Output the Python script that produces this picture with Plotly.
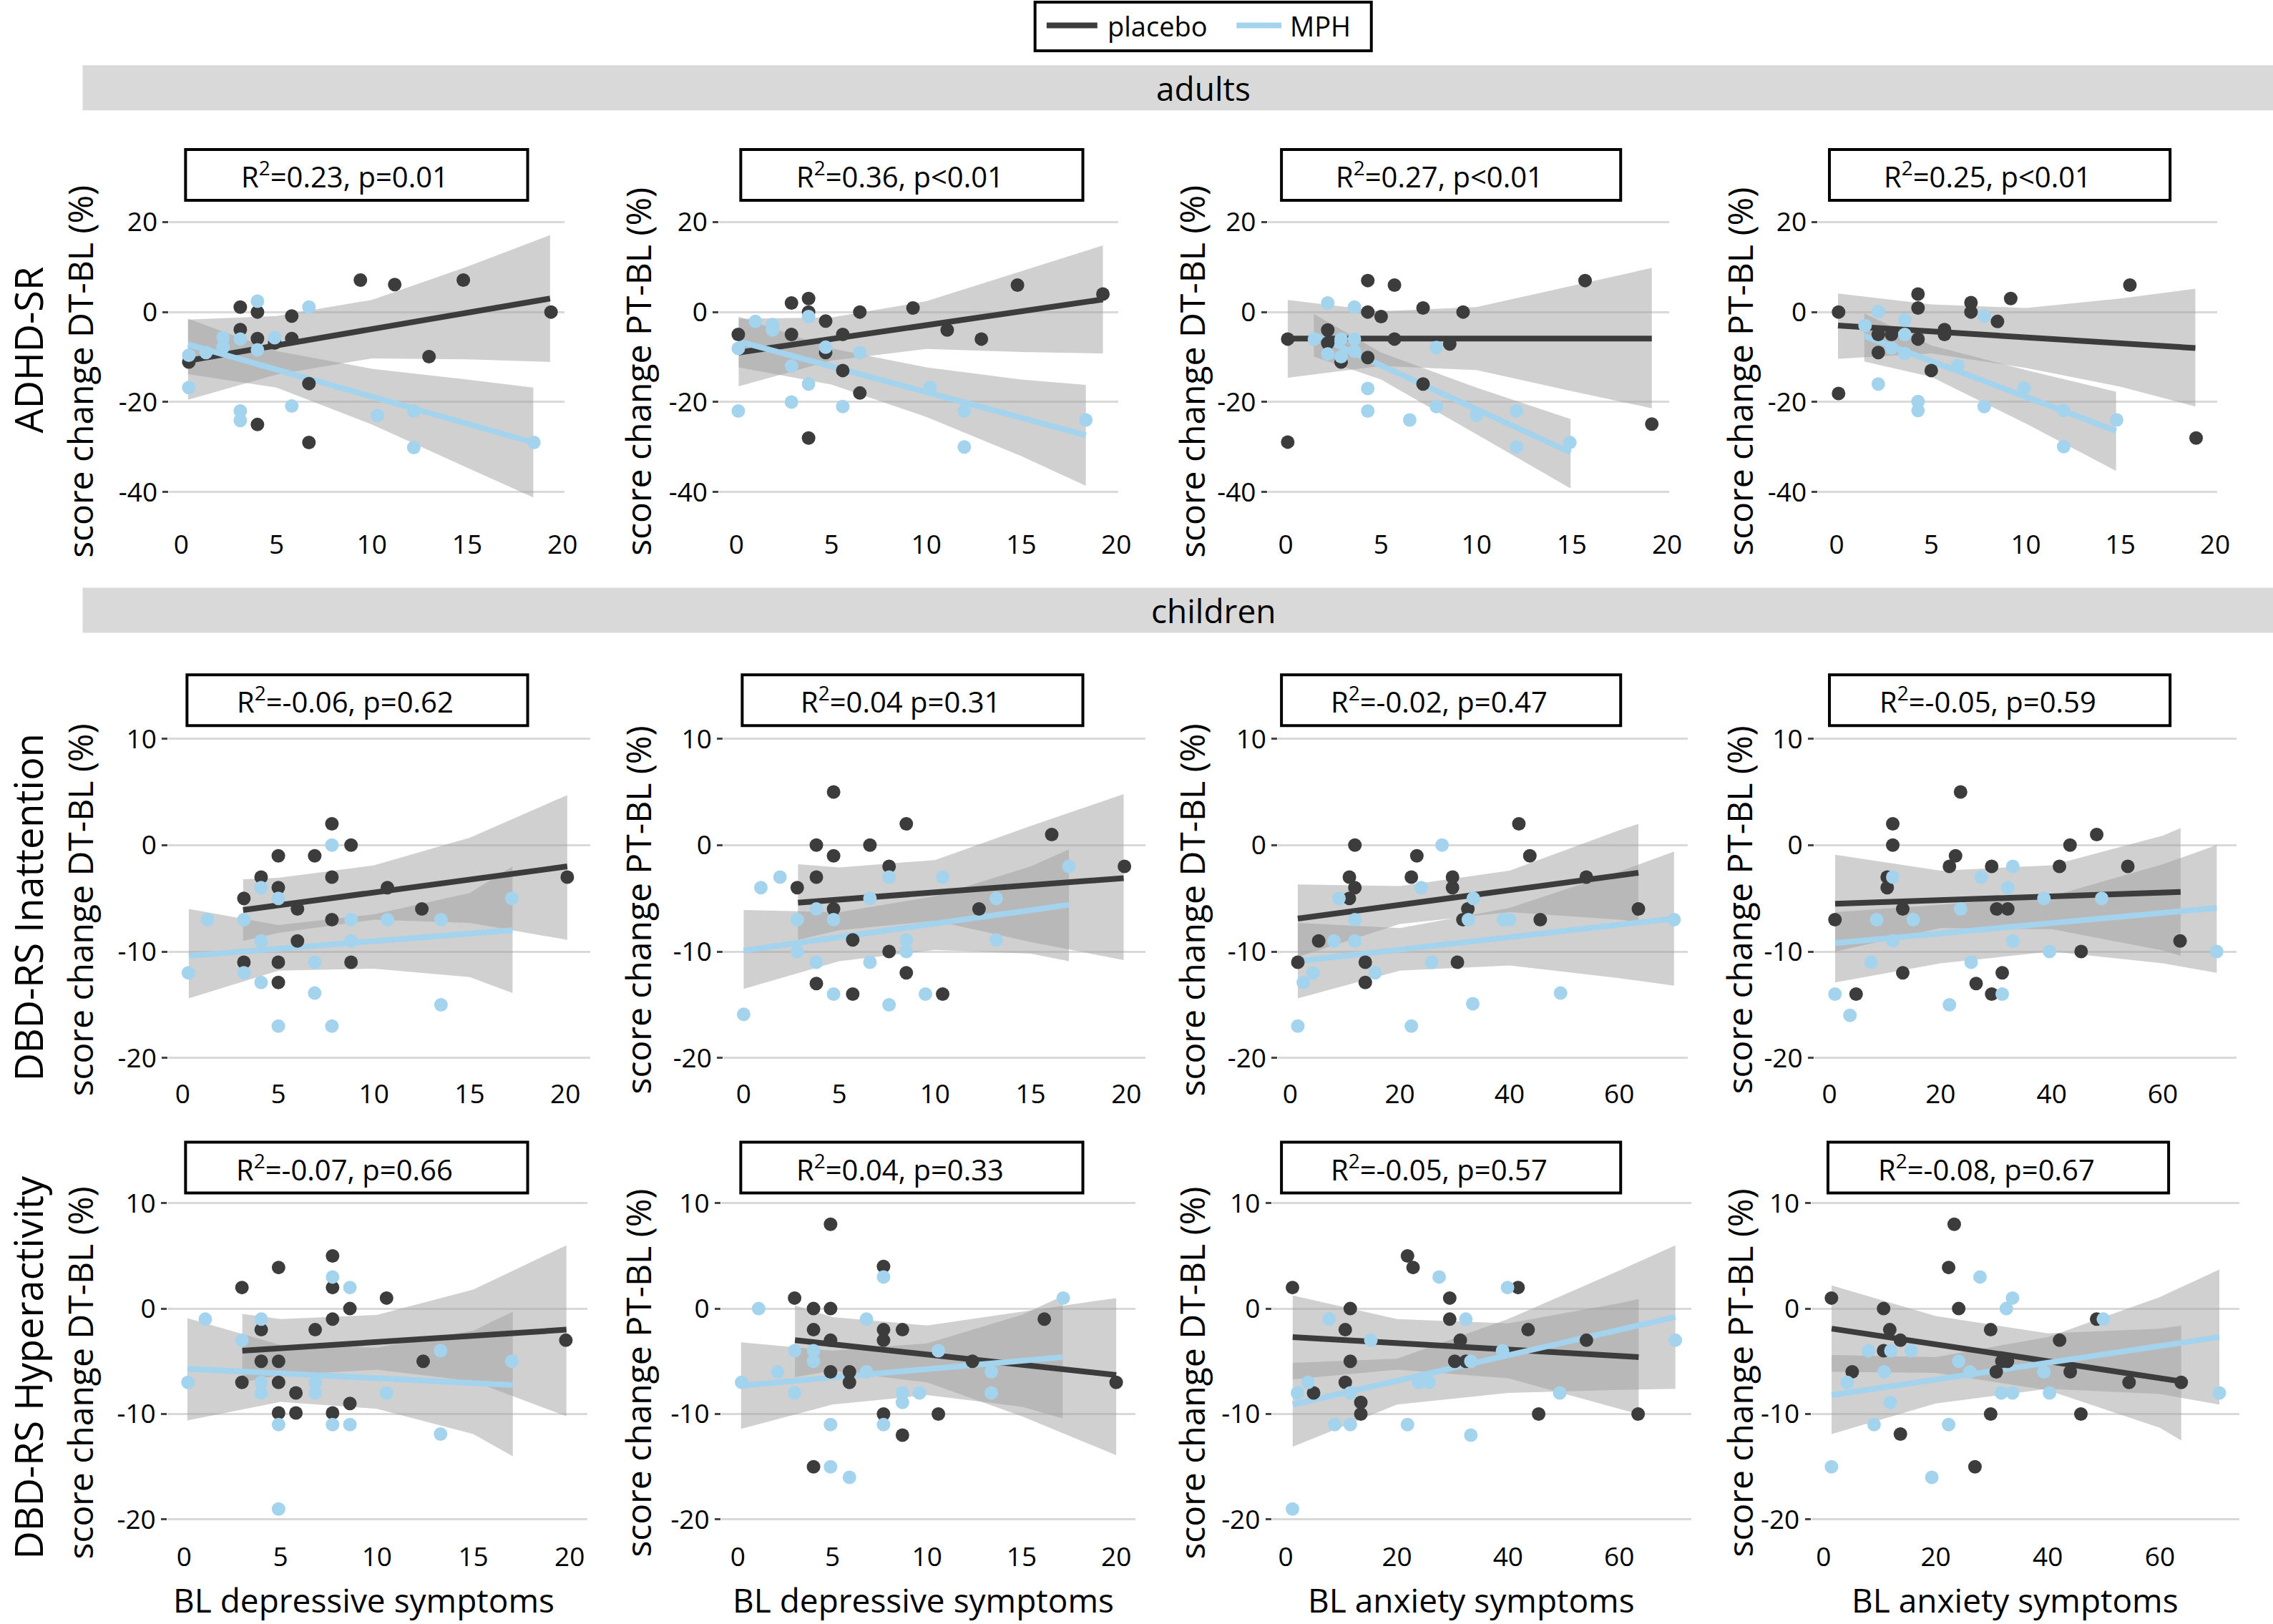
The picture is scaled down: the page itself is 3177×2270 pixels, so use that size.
import plotly.graph_objects as go

# ------------------------------------------------------------------
# DATA
# ------------------------------------------------------------------
# ---- ADHD-SR, DT-BL vs BL depressive (row 1, col 1)
adhd_dt_dep_pla_x = [0.4, 3.1, 4.0, 3.1, 4.0, 4.9, 5.8, 5.8, 6.7, 6.7, 4.0, 9.4, 11.2, 13.0, 14.8, 19.4]
adhd_dt_dep_pla_y = [-11.1, 1.1, 0.0, -3.9, -5.9, -6.9, -0.9, -5.9, -15.9, -29.0, -25.0, 7.1, 6.1, -9.9, 7.1, 0.0]
adhd_dt_dep_mph_x = [0.4, 0.4, 1.3, 2.2, 2.2, 3.1, 3.1, 3.1, 4.0, 4.0, 4.9, 5.8, 6.7, 10.3, 12.2, 12.2, 18.5]
adhd_dt_dep_mph_y = [-9.6, -16.8, -9.0, -5.7, -7.8, -6.0, -22.0, -24.1, 2.4, -8.4, -5.7, -20.9, 1.1, -23.0, -22.0, -30.1, -29.0]
adhd_dt_dep_pla_bx = [0.36, 5, 10, 15, 19.35]
adhd_dt_dep_pla_hi = [-1.7, -0.9, 2.7, 10.1, 17.1]
adhd_dt_dep_pla_lo = [-19.5, -13.9, -10.3, -10.5, -11.1]
adhd_dt_dep_pla_fit = [-10.8, 3.0]
adhd_dt_dep_mph_bx = [0.36, 5, 10, 15, 18.47]
adhd_dt_dep_mph_hi = [-1.5, -8.7, -12.6, -15.0, -16.8]
adhd_dt_dep_mph_lo = [-13.8, -16.8, -25.0, -34.6, -41.2]
adhd_dt_dep_mph_fit = [-7.2, -29.0]

# ---- ADHD-SR, PT-BL vs BL depressive (row 1, col 2)
adhd_pt_dep_pla_x = [0.1, 2.9, 3.8, 3.8, 4.7, 4.7, 2.9, 5.6, 5.6, 6.5, 6.5, 3.8, 9.3, 11.1, 12.9, 14.8, 19.3]
adhd_pt_dep_pla_y = [-5.0, 2.0, 3.0, 0.0, -2.0, -9.0, -5.0, -5.0, -13.0, 0.0, -18.0, -28.0, 0.9, -4.0, -6.0, 6.0, 4.0]
adhd_pt_dep_mph_x = [0.1, 0.1, 1.0, 1.9, 1.9, 2.9, 2.9, 3.8, 3.8, 4.7, 5.6, 6.5, 10.2, 12.0, 12.0, 18.4]
adhd_pt_dep_mph_y = [-8.1, -22.0, -2.1, -2.8, -4.0, -12.0, -20.0, -1.0, -16.0, -7.8, -21.0, -9.0, -16.8, -22.0, -30.0, -24.0]
adhd_pt_dep_pla_bx = [0.12, 5, 10, 15, 19.3]
adhd_pt_dep_pla_hi = [-1.5, -1.2, 2.4, 9.1, 14.8]
adhd_pt_dep_pla_lo = [-16.5, -10.8, -8.2, -8.9, -9.2]
adhd_pt_dep_pla_fit = [-9.0, 2.8]
adhd_pt_dep_mph_bx = [0.12, 5, 10, 15, 18.4]
adhd_pt_dep_mph_hi = [-1.0, -8.1, -12.3, -15.0, -16.2]
adhd_pt_dep_mph_lo = [-12.3, -16.1, -23.3, -32.0, -38.6]
adhd_pt_dep_mph_fit = [-6.5, -27.4]

# ---- ADHD-SR, DT-BL vs BL anxiety (row 1, col 3)
adhd_dt_anx_pla_x = [0.1, 0.1, 2.2, 2.2, 2.9, 4.3, 4.3, 4.3, 5.0, 5.7, 5.7, 7.2, 7.2, 8.6, 9.3, 15.7, 19.2]
adhd_dt_anx_pla_y = [-6.0, -28.9, -4.0, -6.9, -11.1, 7.0, 0.0, -10.1, -1.0, 6.0, -6.0, 0.9, -16.0, -7.1, 0.0, 7.0, -24.9]
adhd_dt_anx_mph_x = [1.5, 2.2, 2.2, 2.9, 2.9, 3.6, 3.6, 3.6, 4.3, 4.3, 6.5, 7.9, 7.9, 10.0, 12.1, 12.1, 14.9]
adhd_dt_anx_mph_y = [-6.0, 2.0, -9.3, -6.0, -9.9, 1.1, -6.0, -8.7, -17.0, -22.0, -24.0, -7.9, -21.0, -22.9, -22.0, -30.0, -29.0]
adhd_dt_anx_pla_bx = [0.1, 5, 10, 15, 19.2]
adhd_dt_anx_pla_hi = [2.7, 0.2, 1.1, 5.8, 9.8]
adhd_dt_anx_pla_lo = [-14.6, -12.0, -12.9, -17.6, -21.4]
adhd_dt_anx_pla_fit = [-5.9, -5.9]
adhd_dt_anx_mph_bx = [1.47, 5, 10, 14.94]
adhd_dt_anx_mph_hi = [-0.4, -9.0, -16.8, -23.8]
adhd_dt_anx_mph_lo = [-9.9, -15.0, -27.2, -39.2]
adhd_dt_anx_mph_fit = [-5.0, -31.2]

# ---- ADHD-SR, PT-BL vs BL anxiety (row 1, col 4)
adhd_pt_anx_pla_x = [0.1, 0.1, 2.2, 2.2, 2.9, 4.3, 4.3, 4.3, 5.0, 5.7, 5.7, 7.1, 7.1, 8.5, 9.2, 15.5, 19.0]
adhd_pt_anx_pla_y = [0.0, -18.1, -5.0, -9.0, -5.0, 4.0, 0.9, -6.0, -13.0, -3.9, -5.0, 2.1, 0.0, -2.1, 3.0, 6.0, -28.0]
adhd_pt_anx_mph_x = [1.5, 2.2, 2.2, 2.9, 3.6, 3.6, 3.6, 4.3, 4.3, 6.4, 7.8, 7.8, 9.9, 12.0, 12.0, 14.8]
adhd_pt_anx_mph_y = [-3.0, 0.1, -16.0, -8.0, -1.8, -5.0, -9.2, -19.9, -21.9, -11.9, -0.9, -21.0, -16.9, -21.9, -29.9, -24.0]
adhd_pt_anx_pla_bx = [0.07, 5, 10, 15, 18.96]
adhd_pt_anx_pla_hi = [4.1, 1.7, 0.9, 3.0, 5.2]
adhd_pt_anx_pla_lo = [-10.4, -9.2, -12.4, -16.6, -21.0]
adhd_pt_anx_pla_fit = [-3.0, -8.0]
adhd_pt_anx_mph_bx = [1.46, 5, 10, 14.77]
adhd_pt_anx_mph_hi = [-0.3, -7.4, -12.9, -17.7]
adhd_pt_anx_mph_lo = [-11.0, -14.4, -24.8, -35.3]
adhd_pt_anx_mph_fit = [-5.3, -26.4]

# ---- DBD-RS Inattention, DT-BL vs BL depressive (row 2, col 1)
inat_dt_dep_pla_x = [3.2, 3.2, 4.1, 5.0, 5.0, 5.0, 5.0, 6.0, 6.0, 6.9, 7.8, 7.8, 7.8, 8.8, 8.8, 10.7, 12.5, 20.1]
inat_dt_dep_pla_y = [-5.0, -11.0, -3.0, -1.0, -4.0, -11.0, -12.9, -6.0, -9.0, -1.0, 2.0, -3.0, -7.0, 0.0, -11.0, -4.0, -6.0, -3.0]
inat_dt_dep_mph_x = [0.3, 1.3, 3.2, 3.2, 4.1, 4.1, 4.1, 5.0, 5.0, 6.9, 6.9, 7.8, 7.8, 8.8, 8.8, 10.7, 13.5, 13.5, 17.2]
inat_dt_dep_mph_y = [-12.0, -7.0, -7.0, -12.0, -4.0, -9.0, -12.9, -5.0, -17.0, -11.0, -13.9, 0.0, -17.0, -7.0, -9.0, -7.0, -7.0, -15.0, -5.0]
inat_dt_dep_pla_bx = [3.16, 5, 10, 15, 20.1]
inat_dt_dep_pla_hi = [-3.2, -3.07, -1.9, 0.7, 4.7]
inat_dt_dep_pla_lo = [-9.0, -8.25, -7.0, -7.3, -8.9]
inat_dt_dep_pla_fit = [-6.1, -2.0]
inat_dt_dep_mph_bx = [0.32, 5, 10, 15, 17.24]
inat_dt_dep_mph_hi = [-6.0, -7.5, -6.5, -4.5, -2.0]
inat_dt_dep_mph_lo = [-14.4, -11.8, -11.6, -12.4, -13.9]
inat_dt_dep_mph_fit = [-10.4, -8.0]

# ---- DBD-RS Inattention, PT-BL vs BL depressive (row 2, col 2)
inat_pt_dep_pla_x = [2.8, 3.8, 3.8, 3.8, 4.7, 4.7, 4.7, 5.7, 5.7, 6.6, 7.6, 7.6, 8.5, 8.5, 10.4, 12.3, 16.1, 19.9]
inat_pt_dep_pla_y = [-4.0, 0.0, -3.0, -13.0, 5.0, -1.0, -6.0, -8.9, -14.0, 0.0, -2.0, -10.0, 2.0, -12.0, -14.0, -6.0, 1.0, -2.0]
inat_pt_dep_mph_x = [0.0, 0.9, 1.9, 2.8, 2.8, 3.8, 3.8, 4.7, 4.7, 6.6, 6.6, 7.6, 7.6, 8.5, 8.5, 9.5, 10.4, 13.2, 13.2, 17.0]
inat_pt_dep_mph_y = [-15.9, -4.0, -3.0, -7.0, -10.0, -6.0, -11.0, -7.0, -14.0, -5.0, -11.0, -3.0, -15.0, -8.9, -10.0, -14.0, -3.0, -5.0, -8.9, -2.0]
inat_pt_dep_pla_bx = [2.84, 5, 10, 15, 19.86]
inat_pt_dep_pla_hi = [-1.8, -2.1, -1.4, 1.8, 4.8]
inat_pt_dep_pla_lo = [-8.9, -8.0, -7.1, -9.1, -10.8]
inat_pt_dep_pla_fit = [-5.4, -3.1]
inat_pt_dep_mph_bx = [0.0, 5, 10, 15, 17.0]
inat_pt_dep_mph_hi = [-6.1, -6.3, -4.8, -2.0, -0.4]
inat_pt_dep_mph_lo = [-13.5, -10.9, -9.85, -10.2, -10.9]
inat_pt_dep_mph_fit = [-9.9, -5.6]

# ---- DBD-RS Inattention, DT-BL vs BL anxiety (row 2, col 3)
inat_dt_anx_pla_x = [1.4, 5.2, 10.8, 10.8, 11.8, 11.8, 13.7, 13.7, 22.1, 23.1, 29.6, 29.6, 30.5, 31.5, 32.4, 41.7, 43.7, 45.6, 54.0, 63.5]
inat_dt_anx_pla_y = [-11.0, -9.0, -3.0, -5.0, 0.0, -4.0, -11.0, -12.9, -3.0, -1.0, -3.0, -4.0, -11.0, -7.0, -6.0, 2.0, -1.0, -7.0, -3.0, -6.0]
inat_dt_anx_mph_x = [1.4, 2.4, 4.2, 8.0, 8.9, 11.8, 11.8, 15.5, 22.1, 23.9, 25.8, 27.7, 32.5, 33.4, 33.3, 38.9, 40.0, 49.3, 70.0]
inat_dt_anx_mph_y = [-17.0, -12.9, -12.0, -9.0, -5.0, -7.0, -9.0, -12.0, -17.0, -4.0, -11.0, 0.0, -7.0, -5.0, -14.9, -7.0, -7.0, -13.9, -7.0]
inat_dt_anx_pla_bx = [1.39, 20, 40, 60, 63.5]
inat_dt_anx_pla_hi = [-3.7, -3.85, -2.4, 1.4, 2.0]
inat_dt_anx_pla_lo = [-10.5, -7.4, -6.3, -7.0, -7.2]
inat_dt_anx_pla_fit = [-6.9, -2.6]
inat_dt_anx_mph_bx = [1.39, 20, 40, 60, 70]
inat_dt_anx_mph_hi = [-7.3, -7.8, -5.9, -2.5, -0.6]
inat_dt_anx_mph_lo = [-14.4, -11.8, -11.3, -12.5, -13.2]
inat_dt_anx_mph_fit = [-10.9, -6.9]

# ---- DBD-RS Inattention, PT-BL vs BL anxiety (row 2, col 4)
inat_pt_anx_pla_x = [1.0, 4.8, 10.4, 10.4, 11.4, 11.4, 13.2, 13.2, 21.6, 22.7, 23.6, 26.4, 29.2, 29.2, 30.1, 31.1, 32.1, 41.4, 43.3, 45.3, 48.1, 53.7, 63.1]
inat_pt_anx_pla_y = [-7.0, -14.0, -3.0, -4.0, 2.0, 0.0, -6.0, -12.0, -2.0, -1.0, 5.0, -13.0, -2.0, -14.0, -6.0, -12.0, -6.0, -2.0, 0.0, -10.0, 1.0, -2.0, -9.0]
inat_pt_anx_mph_x = [1.0, 3.7, 7.5, 8.5, 11.4, 11.4, 15.1, 21.6, 23.6, 25.5, 27.3, 31.1, 32.1, 33.0, 33.0, 38.6, 39.6, 49.0, 69.7]
inat_pt_anx_mph_y = [-14.0, -16.0, -11.0, -7.0, -3.0, -9.0, -7.0, -15.0, -6.0, -11.0, -3.0, -14.0, -4.0, -2.0, -9.0, -5.0, -10.0, -5.0, -10.0]
inat_pt_anx_pla_bx = [1.03, 20, 40, 60, 63.2]
inat_pt_anx_pla_hi = [-0.9, -2.4, -1.9, 0.9, 1.6]
inat_pt_anx_pla_lo = [-10.0, -7.8, -7.9, -9.9, -10.4]
inat_pt_anx_pla_fit = [-5.5, -4.4]
inat_pt_anx_mph_bx = [1.03, 20, 40, 60, 69.7]
inat_pt_anx_mph_hi = [-6.3, -5.6, -4.8, -1.8, 0.0]
inat_pt_anx_mph_lo = [-12.9, -11.1, -10.0, -11.1, -12.0]
inat_pt_anx_mph_fit = [-9.2, -5.9]

# ---- DBD-RS Hyperactivity, DT-BL vs BL depressive (row 3, col 1)
hyp_dt_dep_pla_x = [3.0, 3.0, 4.0, 4.0, 4.9, 4.9, 4.9, 4.9, 5.8, 5.8, 6.8, 7.7, 7.7, 7.7, 7.7, 8.6, 8.6, 10.5, 12.4, 19.8]
hyp_dt_dep_pla_y = [2.0, -7.0, -2.0, -5.0, 3.9, -5.0, -7.0, -9.9, -8.0, -9.9, -2.0, 5.0, 2.0, -1.0, -9.9, 0.0, -9.0, 1.0, -5.0, -3.0]
hyp_dt_dep_mph_x = [0.2, 1.1, 3.0, 4.0, 4.0, 4.0, 4.9, 4.9, 6.8, 6.8, 7.7, 7.7, 8.6, 8.6, 10.5, 13.3, 13.3, 17.0]
hyp_dt_dep_mph_y = [-7.0, -1.0, -3.0, -1.0, -7.0, -8.0, -11.0, -19.0, -7.0, -8.0, 3.0, -11.0, 2.0, -11.0, -8.0, -4.0, -11.9, -5.0]
hyp_dt_dep_pla_bx = [3.02, 5, 10, 15, 19.83]
hyp_dt_dep_pla_hi = [-0.5, -1.0, -0.6, 1.8, 6.0]
hyp_dt_dep_pla_lo = [-7.0, -6.3, -5.8, -6.9, -10.2]
hyp_dt_dep_pla_fit = [-4.0, -2.0]
hyp_dt_dep_mph_bx = [0.17, 5, 10, 15, 17.05]
hyp_dt_dep_mph_hi = [-0.9, -3.45, -3.7, -2.1, -0.3]
hyp_dt_dep_mph_lo = [-10.6, -8.85, -9.5, -11.9, -14.0]
hyp_dt_dep_mph_fit = [-5.7, -7.25]

# ---- DBD-RS Hyperactivity, PT-BL vs BL depressive (row 3, col 2)
hyp_pt_dep_pla_x = [3.0, 4.0, 4.0, 4.0, 4.9, 4.9, 4.9, 4.9, 5.9, 5.9, 7.7, 7.7, 7.7, 7.7, 8.7, 8.7, 10.6, 12.4, 16.2, 20.0]
hyp_pt_dep_pla_y = [1.0, 0.0, -2.0, -15.0, 0.0, -3.0, 8.0, -6.0, -6.0, -7.0, 4.0, -2.0, -3.0, -10.0, -2.0, -12.0, -10.0, -5.0, -1.0, -7.0]
hyp_pt_dep_mph_x = [0.2, 1.1, 2.1, 3.0, 3.0, 4.0, 4.0, 4.9, 4.9, 5.9, 6.8, 6.8, 7.7, 7.7, 8.7, 8.7, 9.6, 10.6, 13.4, 13.4, 17.2]
hyp_pt_dep_mph_y = [-7.0, 0.0, -6.0, -4.0, -8.0, -4.0, -5.0, -11.0, -15.0, -16.0, -1.0, -6.0, 3.0, -11.0, -8.0, -8.9, -8.0, -4.0, -6.0, -8.0, 1.0]
hyp_pt_dep_pla_bx = [3.02, 5, 10, 15, 20.0]
hyp_pt_dep_pla_hi = [0.3, -0.8, -1.6, -0.3, 1.0]
hyp_pt_dep_pla_lo = [-6.5, -5.9, -7.0, -10.2, -13.9]
hyp_pt_dep_pla_fit = [-3.0, -6.3]
hyp_pt_dep_mph_bx = [0.17, 5, 10, 15, 17.17]
hyp_pt_dep_mph_hi = [-3.2, -4.0, -3.3, -0.6, 1.2]
hyp_pt_dep_mph_lo = [-11.4, -9.1, -8.2, -9.3, -10.4]
hyp_pt_dep_mph_fit = [-7.3, -4.6]

# ---- DBD-RS Hyperactivity, DT-BL vs BL anxiety (row 3, col 3)
hyp_dt_anx_pla_x = [1.2, 5.0, 10.7, 10.7, 11.6, 11.6, 13.5, 13.5, 21.9, 22.9, 29.5, 29.5, 30.4, 31.4, 32.4, 41.8, 43.6, 45.5, 54.1, 63.4]
hyp_dt_anx_pla_y = [2.0, -8.0, -2.0, -7.0, 0.0, -5.0, -8.9, -10.0, 5.0, 3.9, 1.0, -1.0, -5.0, -3.0, -5.0, 2.0, -2.0, -10.0, -3.0, -10.0]
hyp_dt_anx_mph_x = [1.2, 2.1, 4.0, 7.8, 8.8, 11.6, 11.6, 15.3, 21.9, 23.9, 25.8, 27.6, 32.4, 33.3, 33.3, 39.0, 39.9, 49.3, 70.1]
hyp_dt_anx_mph_y = [-19.0, -8.0, -7.0, -1.0, -11.0, -8.0, -11.0, -3.0, -11.0, -7.0, -7.0, 3.0, -1.0, -5.0, -12.0, -4.0, 2.0, -8.0, -3.0]
hyp_dt_anx_pla_bx = [1.24, 20, 40, 60, 63.5]
hyp_dt_anx_pla_hi = [1.25, -1.0, -1.4, 0.5, 0.9]
hyp_dt_anx_pla_lo = [-6.7, -5.8, -6.6, -9.5, -10.0]
hyp_dt_anx_pla_fit = [-2.7, -4.6]
hyp_dt_anx_mph_bx = [1.24, 20, 40, 60, 70.1]
hyp_dt_anx_mph_hi = [-5.15, -4.75, -1.0, 3.6, 6.0]
hyp_dt_anx_mph_lo = [-13.1, -9.1, -8.0, -7.7, -7.6]
hyp_dt_anx_mph_fit = [-9.1, -0.8]

# ---- DBD-RS Hyperactivity, PT-BL vs BL anxiety (row 3, col 4)
hyp_pt_anx_pla_x = [1.4, 5.1, 10.7, 10.7, 11.8, 13.7, 13.7, 22.3, 23.3, 24.1, 27.0, 29.8, 29.8, 30.8, 31.8, 32.8, 42.1, 44.0, 45.9, 48.7, 54.5, 63.8]
hyp_pt_anx_pla_y = [1.0, -6.0, 0.0, -4.0, -2.0, -3.0, -11.9, 3.9, 8.0, 0.0, -15.0, -2.0, -10.0, -6.0, -5.0, -5.0, -3.0, -6.0, -10.0, -1.0, -7.0, -7.0]
hyp_pt_anx_mph_x = [1.4, 4.2, 8.0, 9.0, 10.8, 11.9, 12.0, 15.6, 19.3, 22.3, 24.1, 26.1, 27.9, 31.7, 33.7, 32.6, 33.7, 39.3, 40.3, 49.9, 70.6]
hyp_pt_anx_mph_y = [-15.0, -7.0, -4.0, -11.0, -6.0, -8.9, -4.0, -4.0, -16.0, -11.0, -5.0, -6.0, 3.0, -8.0, -8.0, 0.0, 1.0, -6.0, -8.0, -1.0, -8.0]
hyp_pt_anx_pla_bx = [1.43, 20, 40, 60, 63.8]
hyp_pt_anx_pla_hi = [2.2, -0.7, -2.35, -1.9, -1.6]
hyp_pt_anx_pla_lo = [-6.0, -6.1, -7.75, -11.3, -12.5]
hyp_pt_anx_pla_fit = [-1.9, -6.9]
hyp_pt_anx_mph_bx = [1.43, 20, 40, 60, 70.6]
hyp_pt_anx_mph_hi = [-4.4, -4.6, -2.7, 1.1, 3.7]
hyp_pt_anx_mph_lo = [-11.9, -9.0, -7.6, -8.1, -9.1]
hyp_pt_anx_mph_fit = [-8.2, -2.7]

# ---- tick labels and texts
Y_TICKS_ADHD = [20, 0, -20, -40]
Y_TICKTEXT_ADHD = ["20", "0", "-20", "-40"]
Y_TICKS_DBD = [10, 0, -10, -20]
Y_TICKTEXT_DBD = ["10", "0", "-10", "-20"]
X_TICKS_DEP = [0, 5, 10, 15, 20]
X_TICKS_ANX = [0, 20, 40, 60]

ROW_LABELS = ["ADHD-SR", "DBD-RS Inattention", "DBD-RS Hyperactivity"]
STRIP_LABELS = ["adults", "children"]
Y_TITLES = ["score change DT-BL (%)", "score change PT-BL (%)",
            "score change DT-BL (%)", "score change PT-BL (%)"]
X_TITLES = ["BL depressive symptoms", "BL depressive symptoms",
            "BL anxiety symptoms", "BL anxiety symptoms"]
R2_LABELS = [
    "R<sup>2</sup>=0.23, p=0.01", "R<sup>2</sup>=0.36, p&lt;0.01",
    "R<sup>2</sup>=0.27, p&lt;0.01", "R<sup>2</sup>=0.25, p&lt;0.01",
    "R<sup>2</sup>=-0.06, p=0.62", "R<sup>2</sup>=0.04 p=0.31",
    "R<sup>2</sup>=-0.02, p=0.47", "R<sup>2</sup>=-0.05, p=0.59",
    "R<sup>2</sup>=-0.07, p=0.66", "R<sup>2</sup>=0.04, p=0.33",
    "R<sup>2</sup>=-0.05, p=0.57", "R<sup>2</sup>=-0.08, p=0.67",
]
GROUP_NAMES = ["placebo", "MPH"]

# ------------------------------------------------------------------
# table of panels built from the named arrays
# ------------------------------------------------------------------
g = globals()
PANEL_KEYS = ["adhd_dt_dep", "adhd_pt_dep", "adhd_dt_anx", "adhd_pt_anx",
              "inat_dt_dep", "inat_pt_dep", "inat_dt_anx", "inat_pt_anx",
              "hyp_dt_dep", "hyp_pt_dep", "hyp_dt_anx", "hyp_pt_anx"]
PANELS = []
for k in PANEL_KEYS:
    PANELS.append({grp: dict(x=g[f"{k}_{grp}_x"], y=g[f"{k}_{grp}_y"],
                             bx=g[f"{k}_{grp}_bx"], hi=g[f"{k}_{grp}_hi"],
                             lo=g[f"{k}_{grp}_lo"], fit=g[f"{k}_{grp}_fit"])
                   for grp in ("pla", "mph")})

# ------------------------------------------------------------------
# STYLE / GEOMETRY (positions measured on a 1568x1119 preview)
# ------------------------------------------------------------------
W, H = 3177, 2270
RW, RH = 1568.0, 1119.0
FONT = "Open Sans"
C_PLA = "#3c3c3c"
C_MPH = "#a4d3ee"
C_BAND = "rgba(159,159,159,0.49)"
C_GRID = "#d9d9d9"

def fx(p):
    return p / RW

def fy(p):
    return 1 - p / RH

# per row, per column: (px of x=0, px of x=ref, ref, xlo, xhi)
X_GEOM = [
    [(125, 388, 20, -0.63, 20.1), (508, 770, 20, -0.9, 20.1),
     (887, 1150, 20, -0.95, 20.1), (1267, 1528, 20, -0.97, 20.1)],
    [(126, 390, 20, -0.75, 21.3), (513, 777, 20, -1.05, 21.0),
     (890, 1117, 60, -2.2, 72.5), (1262, 1492, 60, -2.7, 73.3)],
    [(127, 393, 20, -0.86, 20.9), (509, 770, 20, -0.88, 21.0),
     (887, 1117, 60, -2.5, 73.0), (1258, 1490, 60, -2.2, 74.2)],
]
# per row: (px of top tick, top tick, px of bottom tick, bottom tick, ylo, yhi)
Y_GEOM = [(153, 20, 339, -40, -42, 22), (509, 10, 729, -20, -21, 11),
          (829, 10, 1047, -20, -21, 11)]
XLABEL_STANDOFF = [36, 10, 12]
BOX_Y = [(103, 138), (465, 500), (787, 822)]
BOX_X = [[(128, 364), (511, 747), (884, 1118), (1262, 1497)],
         [(129, 364), (512, 747), (884, 1118), (1262, 1497)],
         [(128, 364), (511, 747), (884, 1118), (1261, 1496)]]
YTITLE_X = [55, 440, 822, 1200]
YTITLE_Y = [256, 627, 946]
ROWLABEL_Y = [241, 625, 942]
XTITLE_X = [251, 637, 1015, 1390]
XTITLE_Y = 1102

fig = go.Figure()
layout = dict(width=W, height=H,
              margin=dict(l=0, r=0, t=0, b=0, pad=0, autoexpand=False),
              paper_bgcolor="white", plot_bgcolor="white", showlegend=False,
              font=dict(family=FONT, color="black"))
shapes, annotations = [], []

for i, pan in enumerate(PANELS):
    r, c = divmod(i, 4)
    n = i + 1
    xs = "" if n == 1 else str(n)
    x0p, xrp, xref, xlo, xhi = X_GEOM[r][c]
    sx = (xrp - x0p) / xref
    ytp, ytv, ybp, ybv, ylo, yhi = Y_GEOM[r]
    sy = (ybp - ytp) / (ytv - ybv)
    dom_x = [fx(x0p + xlo * sx), fx(x0p + xhi * sx)]
    dom_y = [fy(ytp + (ytv - ylo) * sy), fy(ytp + (ytv - yhi) * sy)]
    xt = X_TICKS_DEP if xref == 20 else X_TICKS_ANX
    yt, ytt = (Y_TICKS_ADHD, Y_TICKTEXT_ADHD) if r == 0 else (Y_TICKS_DBD, Y_TICKTEXT_DBD)

    layout["xaxis" + xs] = dict(domain=dom_x, range=[xlo, xhi], anchor="y" + xs,
                                showgrid=False, zeroline=False, showline=False,
                                ticks="", tickvals=xt, ticktext=[str(v) for v in xt],
                                tickfont=dict(size=37, family=FONT, color="black"),
                                ticklabelstandoff=XLABEL_STANDOFF[r])
    layout["yaxis" + xs] = dict(domain=dom_y, range=[ylo, yhi], anchor="x" + xs,
                                showgrid=True, gridcolor=C_GRID, gridwidth=2.5,
                                zeroline=False, showline=False, ticks="outside",
                                ticklen=8, tickwidth=2.5, tickcolor="#444",
                                tickvals=yt, ticktext=ytt,
                                tickfont=dict(size=37, family=FONT, color="black"))
    xa, ya = "x" + xs, "y" + xs

    for grp in ("pla", "mph"):
        d = pan[grp]
        fig.add_trace(go.Scatter(x=d["bx"] + d["bx"][::-1], y=d["hi"] + d["lo"][::-1],
                                 fill="toself", fillcolor=C_BAND, mode="lines",
                                 line=dict(width=0), hoverinfo="skip",
                                 xaxis=xa, yaxis=ya))
    for grp, col in (("pla", C_PLA), ("mph", C_MPH)):
        d = pan[grp]
        fig.add_trace(go.Scatter(x=[d["bx"][0], d["bx"][-1]], y=d["fit"], mode="lines",
                                 line=dict(color=col, width=8), hoverinfo="skip",
                                 xaxis=xa, yaxis=ya))
    for grp, col, nm in (("pla", C_PLA, GROUP_NAMES[0]), ("mph", C_MPH, GROUP_NAMES[1])):
        d = pan[grp]
        fig.add_trace(go.Scatter(x=d["x"], y=d["y"], mode="markers", name=nm,
                                 marker=dict(color=col, size=19, line=dict(width=0)),
                                 xaxis=xa, yaxis=ya))

    # R2 box
    bx0, bx1 = BOX_X[r][c]
    by0, by1 = BOX_Y[r]
    shapes.append(dict(type="rect", xref="paper", yref="paper",
                       x0=fx(bx0), x1=fx(bx1), y0=fy(by1), y1=fy(by0),
                       line=dict(color="black", width=4), fillcolor="rgba(0,0,0,0)"))
    annotations.append(dict(xref="paper", yref="paper",
                            x=fx(bx0 + 0.465 * (bx1 - bx0)), y=fy((by0 + by1) / 2),
                            text=R2_LABELS[i], showarrow=False, xanchor="center",
                            yanchor="middle", font=dict(size=40, family=FONT)))
    # y title
    annotations.append(dict(xref="paper", yref="paper", x=fx(YTITLE_X[c]), y=fy(YTITLE_Y[r]),
                            text=Y_TITLES[c], textangle=-90, showarrow=False,
                            xanchor="center", yanchor="middle",
                            font=dict(size=48, family=FONT)))

# row labels
for r in range(3):
    annotations.append(dict(xref="paper", yref="paper", x=fx(19), y=fy(ROWLABEL_Y[r]),
                            text=ROW_LABELS[r], textangle=-90, showarrow=False,
                            xanchor="center", yanchor="middle",
                            font=dict(size=54, family=FONT)))
# x titles
for c in range(4):
    annotations.append(dict(xref="paper", yref="paper", x=fx(XTITLE_X[c]), y=fy(XTITLE_Y),
                            text=X_TITLES[c], showarrow=False, xanchor="center",
                            yanchor="middle", font=dict(size=46, family=FONT)))
# strips
for (sy0, sy1, tx), lab in zip([(45, 76, 830), (405, 436, 837)], STRIP_LABELS):
    shapes.append(dict(type="rect", xref="paper", yref="paper", x0=fx(57), x1=1,
                       y0=fy(sy1), y1=fy(sy0), line=dict(width=0), fillcolor="#d9d9d9",
                       layer="below"))
    annotations.append(dict(xref="paper", yref="paper", x=fx(tx), y=fy((sy0 + sy1) / 2),
                            text=lab, showarrow=False, xanchor="center", yanchor="middle",
                            font=dict(size=46, family=FONT)))
# legend box
shapes.append(dict(type="rect", xref="paper", yref="paper", x0=fx(714), x1=fx(946),
                   y0=fy(35), y1=fy(1.5), line=dict(color="black", width=4),
                   fillcolor="white"))
shapes.append(dict(type="line", xref="paper", yref="paper", x0=fx(722), x1=fx(757),
                   y0=fy(17.5), y1=fy(17.5), line=dict(color=C_PLA, width=8)))
shapes.append(dict(type="line", xref="paper", yref="paper", x0=fx(853), x1=fx(884),
                   y0=fy(17.5), y1=fy(17.5), line=dict(color=C_MPH, width=8)))
annotations.append(dict(xref="paper", yref="paper", x=fx(763), y=fy(17.5), text=GROUP_NAMES[0],
                        showarrow=False, xanchor="left", yanchor="middle",
                        font=dict(size=38, family=FONT)))
annotations.append(dict(xref="paper", yref="paper", x=fx(889), y=fy(17.5), text=GROUP_NAMES[1],
                        showarrow=False, xanchor="left", yanchor="middle",
                        font=dict(size=38, family=FONT)))

layout["shapes"] = shapes
layout["annotations"] = annotations
fig.update_layout(**layout)
fig.write_html("out.html", config={"displayModeBar": False},
               post_script="document.body.style.margin='0px';"
                           "document.body.style.overflow='hidden';")
